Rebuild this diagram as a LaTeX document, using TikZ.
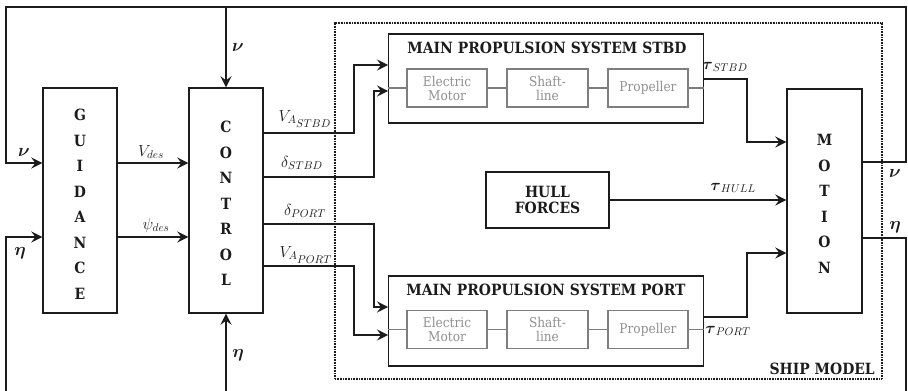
\RequirePackage{fix-cm}
\documentclass[tikz,border=0pt]{standalone}
\usepackage{amsmath,amsbsy}
\usepackage{fontspec}
\setmainfont{DejaVu Serif}
\newfontfamily\condf[FakeStretch=0.9]{DejaVu Serif}
\usetikzlibrary{arrows.meta}
\definecolor{ink}{HTML}{1C1C1C}
\definecolor{greyline}{HTML}{7E7E7E}
\definecolor{greytext}{HTML}{909090}
\begin{document}
\begin{tikzpicture}[x=1pt,y=-1pt,
  blk/.style={draw=ink, line width=1.4pt, inner sep=0pt},
  inbox/.style={draw=greyline, line width=1.2pt, inner sep=0pt, minimum height=38pt, text=greytext, align=center, font=\condf\fontsize{13.5}{14}\selectfont},
  vtext/.style={align=center, text=ink, font=\condf\bfseries\fontsize{15.5}{25.5}\selectfont, inner sep=0pt},
  ttl/.style={text=ink, font=\condf\bfseries\fontsize{15.5}{17}\selectfont, inner sep=0pt, align=center},
  lab/.style={text=ink, font=\fontsize{16}{18}\selectfont, inner sep=0pt},
  blab/.style={text=ink, font=\fontsize{18}{20}\selectfont, inner sep=0pt},
  wire/.style={draw=ink, line width=2pt},
  arr/.style={draw=ink, line width=2pt, -{Stealth[length=11pt,width=11pt,inset=4pt]}},
  gline/.style={draw=greyline, line width=1.2pt},
  dotbox/.style={draw=ink, line width=2pt, dash pattern=on 1pt off 0.6pt, inner sep=0pt}
]
\useasboundingbox (0,0) rectangle (908,391);
\clip (0,0) rectangle (908,391);

% ship model boundary
\node[dotbox, minimum width=547pt, minimum height=356pt] (ship) at (608.5,201) {};
\node[ttl, anchor=east] (shipt) at (875,369) {SHIP MODEL};

% main blocks
\node[blk, minimum width=74pt, minimum height=225pt] (guid) at (80,200.5) {};
\node[vtext] (guidt) at (80,204) {G\\U\\I\\D\\A\\N\\C\\E};
\node[blk, minimum width=74pt, minimum height=225pt] (ctrl) at (226,200.5) {};
\node[vtext] (ctrlt) at (226,203.5) {C\\O\\N\\T\\R\\O\\L};
\node[blk, minimum width=75pt, minimum height=224pt] (mot) at (824.5,201) {};
\node[vtext] (mott) at (824.5,204) {M\\O\\T\\I\\O\\N};
\node[blk, minimum width=123pt, minimum height=56pt, ttl] (hull) at (547.5,200) {HULL\\[-1pt]FORCES};

% propulsion STBD
\node[blk, minimum width=314.5pt, minimum height=89pt] (stbd) at (546,78.5) {};
\node[ttl] (stbdt) at (547,48) {MAIN PROPULSION SYSTEM STBD};
\node[inbox, minimum width=80pt] (em1) at (447,88) {Electric\\Motor};
\node[inbox, minimum width=81pt] (sl1) at (547.5,88) {Shaft-\\line};
\node[inbox, minimum width=80pt] (pr1) at (648,88) {Propeller};
\draw[gline] (stbd.west |- em1.west) -- (em1.west);
\draw[gline] (em1.east) -- (sl1.west);
\draw[gline] (sl1.east) -- (pr1.west);
\draw[gline] (pr1.east) -- (stbd.east |- pr1.east);

% propulsion PORT
\node[blk, minimum width=314.5pt, minimum height=90pt] (port) at (546,321) {};
\node[ttl] (portt) at (546,290) {MAIN PROPULSION SYSTEM PORT};
\node[inbox, minimum width=80pt] (em2) at (447,329.5) {Electric\\Motor};
\node[inbox, minimum width=81pt] (sl2) at (547.5,329.5) {Shaft-\\line};
\node[inbox, minimum width=80pt] (pr2) at (648,329.5) {Propeller};
\draw[gline] (port.west |- em2.west) -- (em2.west);
\draw[gline] (em2.east) -- (sl2.west);
\draw[gline] (sl2.east) -- (pr2.west);
\draw[gline] (pr2.east) -- (port.east |- pr2.east);

% level coordinates
\coordinate (yV) at (0,163);
\coordinate (yPsi) at (0,237);
\coordinate (yVAs) at (0,133);
\coordinate (yDs) at (0,177);
\coordinate (yDp) at (0,224);
\coordinate (yVAp) at (0,266);
\coordinate (cVAs) at (354,65);
\coordinate (cDs) at (374,91);
\coordinate (cDp) at (374,307);
\coordinate (cVAp) at (354,335);
\coordinate (yTs) at (0,79);
\coordinate (yTp) at (0,317);
\coordinate (cTs) at (747,142);
\coordinate (cTp) at (747,253);
\coordinate (yNu) at (0,162);
\coordinate (yEta) at (0,238);
\coordinate (rTop) at (906,7);
\coordinate (lTop) at (6,7);
\coordinate (rBot) at (906,392);
\coordinate (lBot) at (6,392);
\coordinate (cBot) at (226,392);

% guidance -> control
\draw[arr] (guid.east |- yV) -- (ctrl.west |- yV);
\draw[arr] (guid.east |- yPsi) -- (ctrl.west |- yPsi);
\node[lab] (lVdes) at (151,152) {$V_{des}$};
\node[lab] (lPsi) at (156,225) {$\psi_{des}$};

% control -> propulsion
\draw[arr] (ctrl.east |- yVAs) -| (cVAs) -- (stbd.west |- cVAs);
\draw[arr] (ctrl.east |- yDs) -| (cDs) -- (stbd.west |- cDs);
\draw[arr] (ctrl.east |- yDp) -| (cDp) -- (port.west |- cDp);
\draw[arr] (ctrl.east |- yVAp) -| (cVAp) -- (port.west |- cVAp);
\node[lab] (lVAs) at (305,119) {$V_{A_{\scriptstyle STBD}}$};
\node[lab] (lDs) at (302,163) {$\delta_{STBD}$};
\node[lab] (lDp) at (305,211) {$\delta_{PORT}$};
\node[lab] (lVAp) at (306,255) {$V_{A_{\scriptstyle PORT}}$};

% forces -> motion
\draw[arr] (stbd.east |- yTs) -| (cTs) -- (mot.west |- cTs);
\draw[arr] (hull.east) -- (mot.west |- hull.east);
\draw[arr] (port.east |- yTp) -| (cTp) -- (mot.west |- cTp);
\node[lab] (lTs) at (725,67) {$\boldsymbol{\tau}_{STBD}$};
\node[lab] (lTh) at (733,188) {$\boldsymbol{\tau}_{HULL}$};
\node[lab] (lTp) at (728,331) {$\boldsymbol{\tau}_{PORT}$};

% feedback nu
\draw[arr] (mot.east |- yNu) -| (rTop) -- (lTop) |- (guid.west |- yV);
\draw[arr] (ctrl.north |- rTop) -- (ctrl.north);
\node[blab] (lNuR) at (895,173) {$\boldsymbol{\nu}$};
\node[blab] (lNuL) at (24,152) {$\boldsymbol{\nu}$};
\node[blab] (lNuT) at (238,47) {$\boldsymbol{\nu}$};

% feedback eta
\draw[wire] (mot.east |- yEta) -| (rBot);
\draw[arr] (lBot) |- (guid.west |- yPsi);
\draw[arr] (cBot) -- (ctrl.south);
\node[blab] (lEtaR) at (895,227) {$\boldsymbol{\eta}$};
\node[blab] (lEtaL) at (20,253) {$\boldsymbol{\eta}$};
\node[blab] (lEtaB) at (238,355) {$\boldsymbol{\eta}$};
\end{tikzpicture}
\end{document}
